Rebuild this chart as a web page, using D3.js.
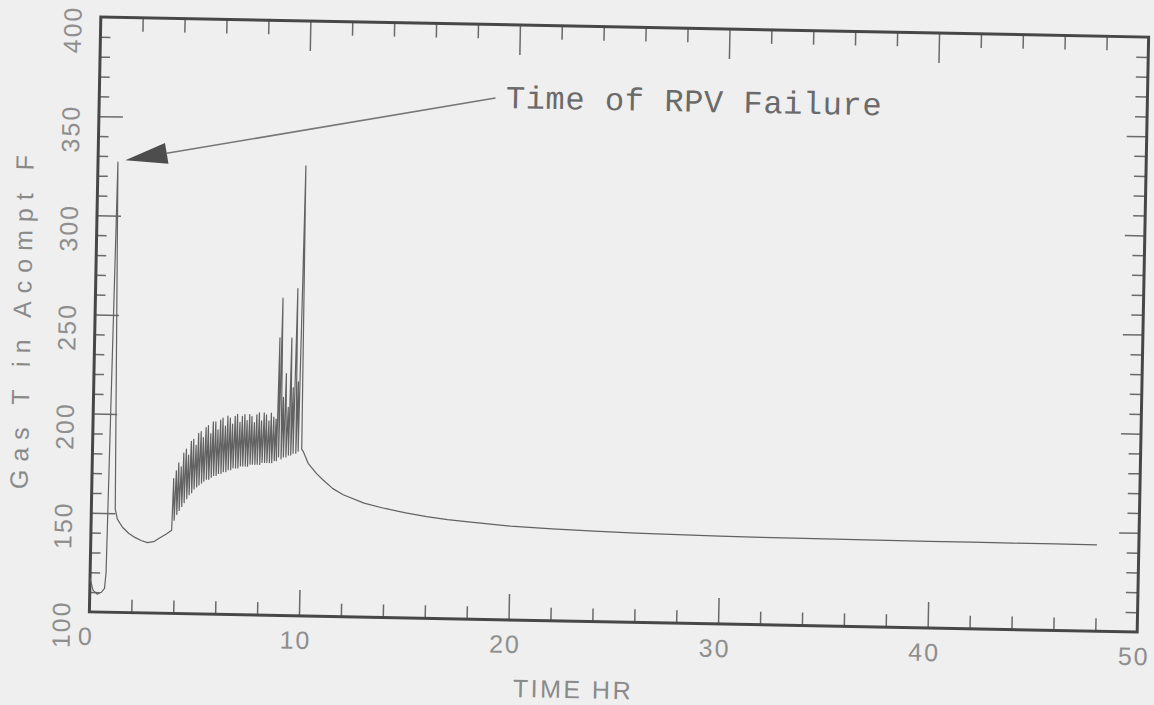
<!DOCTYPE html>
<html lang="en">
<head>
  <meta charset="UTF-8">
  <title>Gas T in Acompt F</title>
  <style>
    body { margin: 0; background: #efefef; }
    .frame { fill: none; stroke: #474747; stroke-width: 3px; }
    .tick line { stroke: #6a6a6a; stroke-width: 1.5px; }
    .curve { fill: none; stroke: #626262; stroke-width: 1.2px; stroke-linejoin: round; }
    .lbl { font-family: "Liberation Sans", Arial, sans-serif; font-size: 25px; fill: #8e8e8e; letter-spacing: 2px; }
    .title { font-family: "Liberation Sans", Arial, sans-serif; font-size: 25px; fill: #8a8a8a; }
    .note { font-family: "Liberation Mono", "Courier New", monospace; font-size: 32px; fill: #6a6a6a; letter-spacing: 0.6px; }
  </style>
</head>
<body>
  <script src="https://cdn.jsdelivr.net/npm/d3@7"></script>
  <script>
    const width = 1154, height = 705;
    const plot = { left: 95, right: 1143, top: 27, bottom: 622 };
    const tilt = 1.1; // the scanned page sits a little crooked

    // heat-up and the first spike (time in hr, gas temperature in F)
    const warmupTime = [0.00, 0.15, 0.35, 0.55, 0.70, 0.76, 0.95, 1.14, 1.25, 1.5, 1.8, 2.1, 2.4, 2.7, 3.0, 3.3, 3.6, 3.85];
    const warmupTemp = [117, 111, 109, 110, 112, 120, 327, 152, 147, 143, 140, 138, 136.5, 135.5, 136, 138, 140, 142];

    // oscillating band, peak / trough pairs
    const cycleTime = [3.90, 3.96, 4.02, 4.08, 4.13, 4.19, 4.25, 4.31, 4.36, 4.42, 4.48, 4.54, 4.59, 4.65, 4.71, 4.77, 4.82, 4.88, 4.94, 5.00,
      5.05, 5.11, 5.17, 5.23, 5.28, 5.34, 5.40, 5.46, 5.51, 5.57, 5.63, 5.69, 5.74, 5.80, 5.86, 5.92, 5.97, 6.03, 6.09, 6.15,
      6.20, 6.26, 6.32, 6.38, 6.43, 6.49, 6.55, 6.61, 6.66, 6.72, 6.78, 6.84, 6.89, 6.95, 7.01, 7.07, 7.12, 7.18, 7.24, 7.30,
      7.35, 7.41, 7.47, 7.53, 7.58, 7.64, 7.70, 7.76, 7.81, 7.87, 7.93, 7.99, 8.04, 8.10, 8.16, 8.22, 8.27, 8.33, 8.39, 8.45,
      8.50, 8.56, 8.62, 8.68, 8.73, 8.78];
    const cycleTemp = [168, 147, 172, 150, 176, 152, 174, 154, 181, 156, 183, 158, 180, 160, 187, 161, 188, 163, 185, 164,
      191, 165, 192, 166, 189, 167, 194, 168, 195, 168, 191, 169, 197, 170, 197, 170, 193, 171, 198, 171,
      199, 172, 195, 172, 200, 173, 199, 173, 196, 174, 200, 174, 201, 174, 197, 175, 200, 175, 201, 175,
      198, 175, 201, 176, 200, 176, 197, 176, 201, 176, 202, 176, 198, 177, 202, 177, 201, 177, 198, 177,
      202, 177, 200, 178, 199, 178];

    // tall spikes before the long cool-down
    const spikeTime = [8.84, 8.88, 8.95, 9.00, 9.06, 9.11, 9.18, 9.23, 9.30, 9.35, 9.41, 9.46, 9.52, 9.57, 9.65, 9.70, 9.76, 9.81, 9.92, 9.98];
    const spikeTemp = [240, 180, 260, 179, 210, 180, 222, 180, 205, 181, 240, 181, 215, 182, 265, 182, 218, 183, 327, 184];

    // cool-down
    const decayTime = [10.05, 10.3, 10.7, 11.0, 11.5, 12, 13, 14, 15, 16, 17, 18, 20, 22, 24, 26, 28, 30, 32, 34, 36, 38, 40, 42, 44, 46, 48];
    const decayTemp = [183, 177, 172, 169, 164.5, 161.5, 157.5, 155, 153, 151.3, 150, 149, 147.3, 146.3, 145.6, 145, 144.6, 144.3, 144.1, 144, 143.9, 143.8, 143.7, 143.7, 143.6, 143.6, 143.5];

    const xTickLabels = [0, 10, 20, 30, 40, 50];
    const yTickLabels = [100, 150, 200, 250, 300, 350, 400];
    const note = { text: 'Time of RPV Failure', tip: [1.3, 328], tail: [18.9, 363], at: [19.4, 358] };

    const x = d3.scaleLinear().domain([0, 50]).range([plot.left, plot.right]);
    const y = d3.scaleLinear().domain([100, 400]).range([plot.bottom, plot.top]);

    const data = [].concat(
      d3.zip(warmupTime, warmupTemp),
      d3.zip(cycleTime, cycleTemp),
      d3.zip(spikeTime, spikeTemp),
      d3.zip(decayTime, decayTemp)
    );

    const svg = d3.select('body').append('svg').attr('width', width).attr('height', height);
    svg.append('rect').attr('width', width).attr('height', height).attr('fill', '#efefef');

    const cx = (plot.left + plot.right) / 2, cy = (plot.top + plot.bottom) / 2;
    const g = svg.append('g').attr('transform', `rotate(${tilt},${cx},${cy})`);

    // inward ticks on all four sides
    function ticks(axis, values, size, at) {
      const sel = g.append('g').attr('transform', at)
        .call(axis.tickValues(values).tickSize(-size).tickSizeOuter(0).tickFormat(''));
      sel.select('.domain').remove();
    }
    const minorX = d3.range(2, 50, 2).filter(d => d % 10 !== 0);
    const majorX = [10, 20, 30, 40];
    const minorY = d3.range(110, 400, 10).filter(d => d % 50 !== 0);
    const majorY = [150, 200, 250, 300, 350];
    ticks(d3.axisBottom(x), minorX, 13, `translate(0,${plot.bottom})`);
    ticks(d3.axisBottom(x), majorX, 26, `translate(0,${plot.bottom})`);
    ticks(d3.axisTop(x), minorX, 14, `translate(0,${plot.top})`);
    ticks(d3.axisTop(x), majorX, 30, `translate(0,${plot.top})`);
    ticks(d3.axisLeft(y), minorY, 10, `translate(${plot.left},0)`);
    ticks(d3.axisLeft(y), majorY, 24, `translate(${plot.left},0)`);
    ticks(d3.axisRight(y), minorY, 12, `translate(${plot.right},0)`);
    ticks(d3.axisRight(y), majorY, 20, `translate(${plot.right},0)`);

    g.append('rect').attr('class', 'frame')
      .attr('x', plot.left).attr('y', plot.top)
      .attr('width', plot.right - plot.left).attr('height', plot.bottom - plot.top);

    // the curve
    const line = d3.line().x(d => x(d[0])).y(d => y(d[1]));
    g.append('path').datum(data).attr('class', 'curve').attr('d', line);

    // tick labels
    g.selectAll('text.xl').data(xTickLabels).enter().append('text')
      .attr('class', 'lbl xl')
      .attr('x', d => x(d) - 3).attr('y', plot.bottom + 33)
      .attr('text-anchor', 'middle')
      .text(d => d);
    g.selectAll('text.yl').data(yTickLabels).enter().append('text')
      .attr('class', 'lbl yl')
      .attr('transform', d => `translate(${plot.left - 28},${y(d) + 13}) rotate(-90)`)
      .attr('text-anchor', 'middle').attr('dy', '0.35em')
      .text(d => d);

    // axis titles
    g.append('text').attr('class', 'title')
      .attr('x', 580).attr('y', plot.bottom + 77)
      .attr('text-anchor', 'middle').style('letter-spacing', '2.5px')
      .text('TIME HR');
    g.append('text').attr('class', 'title')
      .attr('transform', `translate(22,${cy + 5}) rotate(-90)`)
      .attr('text-anchor', 'middle').attr('dy', '0.35em').style('letter-spacing', '8px')
      .text('Gas T in Acompt F');

    // annotation arrow
    const tip = [x(note.tip[0]), y(note.tip[1])];
    const tail = [x(note.tail[0]), y(note.tail[1])];
    const len = Math.hypot(tail[0] - tip[0], tail[1] - tip[1]);
    const u = [(tail[0] - tip[0]) / len, (tail[1] - tip[1]) / len];
    const base = [tip[0] + 42 * u[0], tip[1] + 42 * u[1]];
    const half = 10.5;
    g.append('line')
      .attr('x1', base[0]).attr('y1', base[1]).attr('x2', tail[0]).attr('y2', tail[1])
      .attr('stroke', '#777').attr('stroke-width', 1.6);
    g.append('path')
      .attr('d', d3.line()([tip, [base[0] - half * u[1], base[1] + half * u[0]], [base[0] + half * u[1], base[1] - half * u[0]]]) + 'Z')
      .attr('fill', '#4d4d4d');
    g.append('text').attr('class', 'note')
      .attr('x', x(note.at[0])).attr('y', y(note.at[1]))
      .text(note.text);
  </script>
</body>
</html>
